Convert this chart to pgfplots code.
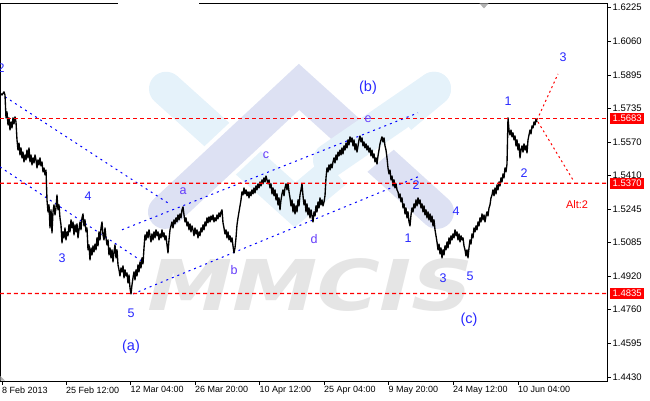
\documentclass[border=0pt]{standalone}
\usepackage{pgfplots}
\pgfplotsset{compat=1.18}
\usepackage{fontspec}
\setmainfont{Liberation Sans}
\newfontfamily\wmfont[FakeSlant=0.2]{DejaVu Sans}
\definecolor{wblue}{RGB}{40,40,255}
\definecolor{wviolet}{RGB}{100,60,250}
\definecolor{lblue}{RGB}{229,242,250}
\definecolor{lav}{RGB}{221,225,243}
\definecolor{wmgrey}{RGB}{229,229,229}
\definecolor{lvlA}{RGB}{255,0,0}
\definecolor{lvlB}{RGB}{254,0,0}
\definecolor{lvlC}{RGB}{255,0,1}
\definecolor{lvlD}{RGB}{253,0,0}
\definecolor{lvlE}{RGB}{255,1,0}
\definecolor{chA}{RGB}{0,0,255}
\definecolor{chB}{RGB}{0,0,254}
\definecolor{chC}{RGB}{1,0,255}
\definecolor{chD}{RGB}{0,1,255}
\begin{document}
\begin{tikzpicture}
\useasboundingbox (0,-19pt) rectangle (650pt,381pt);
\begin{axis}[
  at={(0,0)}, anchor=south west, scale only axis,
  width=607pt, height=378pt,
  xmin=0, xmax=607, ymin=1.44106, ymax=1.62440,
  axis line style={black, line width=0.8pt},
  tick align=outside, major tick length=3.5pt,
  every tick/.style={black, line width=0.6pt},
  xtick pos=left, ytick pos=right, yticklabel pos=right,
  xtick={2,66,130.5,195,259.5,324,388.5,453,518},
  xticklabels={8 Feb 2013,25 Feb 12:00,12 Mar 04:00,26 Mar 20:00,10 Apr 12:00,25 Apr 04:00,9 May 20:00,24 May 12:00,10 Jun 04:00},
  ytick={1.4430,1.4595,1.4760,1.4920,1.5085,1.5245,1.5410,1.5570,1.5735,1.5895,1.6060,1.6225},
  yticklabels={1.4430,1.4595,1.4760,1.4920,1.5085,1.5245,1.5410,1.5570,1.5735,1.5895,1.6060,1.6225},
  ticklabel style={font=\fontsize{9}{10}\selectfont, inner sep=0pt},
  xticklabel style={anchor=north west, yshift=-2pt},
  yticklabel style={anchor=west, xshift=2pt, font=\fontsize{9.5}{10}\selectfont},
  clip=true,
]
% watermark logo
\draw[lblue, line width=34pt, line cap=round] (166,1.5828) -- (295,1.5265) -- (434,1.5828);
\draw[white, line width=42pt, line cap=butt] (260,1.5662) -- (208,1.5425);
\draw[lav, line width=34pt, line cap=round, line join=miter] (165,1.5231) -- (299,1.5837) -- (437,1.5231);
\draw[white, line width=42pt, line cap=butt] (400,1.5692) -- (335,1.5427);
\draw[lblue, line width=34pt, line cap=round] (434,1.5828) -- (330,1.5482);
\node[text=wmgrey, font=\wmfont\bfseries\fontsize{70}{70}\selectfont, xscale=1.22] at (304,1.4877) {MMCIS};
% channel lines
\addplot[draw=chA, line width=1pt, dash pattern=on 2pt off 4pt] coordinates {(5,1.5789) (168,1.5274)};
\addplot[draw=chB, line width=1pt, dash pattern=on 2pt off 4pt] coordinates {(0,1.5449) (143,1.4988)};
\addplot[draw=chC, line width=1pt, dash pattern=on 2pt off 4pt] coordinates {(122,1.5144) (418,1.5711)};
\addplot[draw=chD, line width=1pt, dash pattern=on 2pt off 4pt] coordinates {(133,1.4833) (420,1.5405)};
% price
\addplot[black, line width=1.35pt, line join=round] coordinates {
(0,1.5808) (2,1.5798) (4,1.5813) (5,1.5798) (6,1.5687) (7,1.5716) (8,1.5653) (9,1.5687) (10,1.5628) (11,1.5667)
(12,1.5638) (13,1.5687) (14,1.5658) (15,1.5692) (16,1.5667) (17,1.5580) (18,1.5531) (19,1.5565) (20,1.5507) (21,1.5541)
(22,1.5493) (23,1.5521) (24,1.5473) (25,1.5507) (26,1.5483) (27,1.5531) (28,1.5493) (29,1.5541) (30,1.5473) (31,1.5507)
(32,1.5459) (33,1.5493) (34,1.5468) (35,1.5507) (36,1.5483) (37,1.5444) (38,1.5483) (39,1.5459) (40,1.5493) (41,1.5454)
(42,1.5473) (43,1.5425) (44,1.5444) (45,1.5410) (46,1.5434) (47,1.5289)
(48,1.5231) (49,1.5265) (50,1.5153) (51,1.5241) (52,1.5129) (53,1.5231) (54,1.5265) (55,1.5216) (56,1.5250) (57,1.5313)
(58,1.5241) (59,1.5265) (60,1.5202) (61,1.5168) (62,1.5080) (63,1.5134) (64,1.5105) (65,1.5153) (66,1.5095) (67,1.5134)
(68,1.5115) (69,1.5168) (70,1.5134) (71,1.5192) (72,1.5153) (73,1.5182) (74,1.5119) (75,1.5168) (76,1.5134) (77,1.5173)
(78,1.5105) (79,1.5144) (80,1.5182) (81,1.5144) (82,1.5202) (83,1.5221) (84,1.5163) (85,1.5192) (86,1.5134) (87,1.5153)
(88,1.5047) (89,1.5071) (90,1.4998) (91,1.5056) (92,1.5022) (93,1.5066) (94,1.5037) (95,1.5075) (96,1.5047) (97,1.5105)
(98,1.5066) (99,1.5134) (100,1.5095) (101,1.5153) (102,1.5182) (103,1.5119) (104,1.5095) (105,1.5153) (106,1.5105) (107,1.5071)
(108,1.5095) (109,1.5022) (110,1.5056) (111,1.5008) (112,1.5047) (113,1.4988) (114,1.5037) (115,1.5071) (116,1.5008) (117,1.5047)
(118,1.4974) (119,1.4950) (120,1.4920) (121,1.4959) (122,1.4940) (123,1.4969) (124,1.4911) (125,1.4950) (126,1.4920) (127,1.4935)
(128,1.4886) (129,1.4925) (130,1.4862) (131,1.4833) (132,1.4877) (133,1.4911) (134,1.4940) (135,1.4901) (136,1.4950) (137,1.4920)
(138,1.4974) (139,1.4940) (140,1.4988) (141,1.4959) (142,1.5008) (143,1.4979) (144,1.5056) (145,1.5119)
(146,1.5095) (147,1.5134) (148,1.5105) (149,1.5144) (150,1.5115) (151,1.5085) (152,1.5124) (153,1.5095) (154,1.5134) (155,1.5105)
(156,1.5144) (157,1.5115) (158,1.5134) (159,1.5095) (160,1.5124) (161,1.5105) (162,1.5144) (163,1.5110) (164,1.5129) (165,1.5095)
(166,1.5115) (167,1.5071) (168,1.5032) (169,1.5095) (170,1.5144) (171,1.5163) (172,1.5182) (173,1.5153) (174,1.5192) (175,1.5173)
(176,1.5202) (177,1.5182) (178,1.5216) (179,1.5192) (180,1.5221) (181,1.5202) (182,1.5241) (183,1.5255) (184,1.5216) (185,1.5182)
(186,1.5202) (187,1.5163) (188,1.5182) (189,1.5144) (190,1.5173) (191,1.5134) (192,1.5163) (193,1.5144) (194,1.5115) (195,1.5153)
(196,1.5124) (197,1.5144) (198,1.5105) (199,1.5134) (200,1.5115) (201,1.5153) (202,1.5134) (203,1.5168) (204,1.5144) (205,1.5182)
(206,1.5163) (207,1.5202) (208,1.5178) (209,1.5207) (210,1.5182) (211,1.5211) (212,1.5192) (213,1.5216) (214,1.5182) (215,1.5202)
(216,1.5187) (217,1.5216) (218,1.5197) (219,1.5226) (220,1.5207) (221,1.5231) (222,1.5241) (223,1.5178) (224,1.5153) (225,1.5124)
(226,1.5144) (227,1.5105) (228,1.5134) (229,1.5095) (230,1.5115) (231,1.5085) (232,1.5105) (233,1.5066) (234,1.5032) (235,1.5056)
(236,1.5105) (237,1.5168) (238,1.5202) (239,1.5231) (240,1.5260) (241,1.5289) (242,1.5328)
(243,1.5313) (244,1.5347) (245,1.5318) (246,1.5338) (247,1.5309) (248,1.5328) (249,1.5299) (250,1.5328) (251,1.5309) (252,1.5338)
(253,1.5318) (254,1.5347) (255,1.5323) (256,1.5357) (257,1.5338) (258,1.5367) (259,1.5347) (260,1.5376) (261,1.5357) (262,1.5386)
(263,1.5367) (264,1.5396) (265,1.5376) (266,1.5405) (267,1.5386) (268,1.5367) (269,1.5386) (270,1.5347) (271,1.5367) (272,1.5318)
(273,1.5347) (274,1.5309) (275,1.5338) (276,1.5289) (277,1.5318) (278,1.5265) (279,1.5299) (280,1.5241) (281,1.5289) (282,1.5318)
(283,1.5338) (284,1.5309) (285,1.5347) (286,1.5367) (287,1.5338) (288,1.5371) (289,1.5328) (290,1.5299) (291,1.5260) (292,1.5289)
(293,1.5231) (294,1.5270) (295,1.5221) (296,1.5260) (297,1.5231) (298,1.5289) (299,1.5260) (300,1.5313) (301,1.5338) (302,1.5367)
(303,1.5309) (304,1.5265) (305,1.5289) (306,1.5231) (307,1.5270) (308,1.5216) (309,1.5250) (310,1.5202) (311,1.5241) (312,1.5211)
(313,1.5182) (314,1.5231) (315,1.5211) (316,1.5260) (317,1.5231) (318,1.5279) (319,1.5250) (320,1.5299) (321,1.5265) (322,1.5289)
(323,1.5260) (324,1.5279) (325,1.5309) (326,1.5396) (327,1.5444)
(328,1.5425) (329,1.5459) (330,1.5434) (331,1.5463) (332,1.5444) (333,1.5473) (334,1.5493) (335,1.5468) (336,1.5507) (337,1.5483)
(338,1.5521) (339,1.5502) (340,1.5531) (341,1.5507) (342,1.5541) (343,1.5512) (344,1.5551) (345,1.5531) (346,1.5565) (347,1.5541)
(348,1.5580) (349,1.5556) (350,1.5595) (351,1.5570) (352,1.5590) (353,1.5551) (354,1.5580) (355,1.5531) (356,1.5561) (357,1.5521)
(358,1.5551) (359,1.5580) (360,1.5599) (361,1.5570) (362,1.5590) (363,1.5551) (364,1.5570) (365,1.5541) (366,1.5561) (367,1.5531)
(368,1.5551) (369,1.5521) (370,1.5541) (371,1.5502) (372,1.5531) (373,1.5493) (374,1.5512) (375,1.5473) (376,1.5493) (377,1.5463)
(378,1.5502) (379,1.5531) (380,1.5561) (381,1.5580) (382,1.5595) (383,1.5570) (384,1.5590) (385,1.5551) (386,1.5531) (387,1.5493)
(388,1.5444) (389,1.5415) (390,1.5434) (391,1.5386) (392,1.5405) (393,1.5357) (394,1.5386) (395,1.5347) (396,1.5367) (397,1.5338)
(398,1.5328) (399,1.5299) (400,1.5318) (401,1.5279) (402,1.5299) (403,1.5250) (404,1.5270) (405,1.5221) (406,1.5250) (407,1.5202)
(408,1.5231) (409,1.5182) (410,1.5163) (411,1.5216) (412,1.5250) (413,1.5231) (414,1.5270) (415,1.5250) (416,1.5289) (417,1.5260)
(418,1.5299) (419,1.5270) (420,1.5289) (421,1.5250) (422,1.5270) (423,1.5231) (424,1.5260) (425,1.5216) (426,1.5241) (427,1.5202)
(428,1.5231) (429,1.5192) (430,1.5221) (431,1.5182) (432,1.5211) (433,1.5163) (434,1.5192) (435,1.5144) (436,1.5115) (437,1.5085)
(438,1.5047) (439,1.5075) (440,1.5027) (441,1.5056) (442,1.5008) (443,1.5047) (444,1.5022) (445,1.5066) (446,1.5047) (447,1.5085)
(448,1.5056) (449,1.5105) (450,1.5075) (451,1.5115) (452,1.5095) (453,1.5124) (454,1.5105) (455,1.5144) (456,1.5115) (457,1.5134)
(458,1.5095) (459,1.5124) (460,1.5085) (461,1.5115) (462,1.5095) (463,1.5105) (464,1.5066) (465,1.5047) (466,1.5017) (467,1.5047)
(468,1.5008) (469,1.5056) (470,1.5095) (471,1.5075) (472,1.5124) (473,1.5105) (474,1.5153) (475,1.5134) (476,1.5163) (477,1.5144)
(478,1.5182) (479,1.5163) (480,1.5202) (481,1.5182) (482,1.5221) (483,1.5192) (484,1.5216) (485,1.5182) (486,1.5211) (487,1.5231)
(488,1.5211) (489,1.5250) (490,1.5265) (491,1.5299) (492,1.5313)
(493,1.5338) (494,1.5309) (495,1.5347) (496,1.5318) (497,1.5362) (498,1.5338) (499,1.5376) (500,1.5357) (501,1.5396) (502,1.5376)
(503,1.5415) (504,1.5396) (505,1.5444) (506,1.5425) (507,1.5463) (508,1.5687) (509,1.5628) (510,1.5604) (511,1.5628) (512,1.5595)
(513,1.5614) (514,1.5580) (515,1.5599) (516,1.5551) (517,1.5580) (518,1.5531) (519,1.5561) (520,1.5493) (521,1.5531) (522,1.5551)
(523,1.5521) (524,1.5561) (525,1.5531) (526,1.5551) (527,1.5517) (528,1.5580) (529,1.5604) (530,1.5628) (531,1.5609) (532,1.5648)
(533,1.5638) (534,1.5667) (535,1.5653) (536,1.5682) (537,1.5667)
};
% horizontal levels
\addplot[draw=lvlA, line width=1.1pt, dash pattern=on 4pt off 3pt] coordinates {(0,1.5683) (607,1.5683)};
\addplot[draw=lvlB, line width=1.2pt, dash pattern=on 4pt off 3pt] coordinates {(0,1.53698) (607,1.53702)};
\addplot[draw=lvlC, line width=1.2pt, dash pattern=on 4pt off 3pt] coordinates {(0,1.48348) (607,1.48352)};
% projections
\addplot[draw=lvlD, line width=1pt, dash pattern=on 2pt off 3pt] coordinates {(537,1.5677) (558,1.5900)};
\addplot[draw=lvlE, line width=1pt, dash pattern=on 2pt off 3pt] coordinates {(538,1.5667) (573,1.5386)};
\coordinate (r1) at (607,1.5683);
\coordinate (r2) at (607,1.5370);
\coordinate (r3) at (607,1.4835);
% wave labels
\begin{scope}[every node/.style={font=\fontsize{12.5}{13}\selectfont, text=wblue, inner sep=0pt}]
\node at (1,1.5929) {2};
\node at (88,1.5309) {4};
\node at (62,1.5008) {3};
\node at (131,1.4741) {5};
\node[font=\fontsize{14.5}{15}\selectfont] at (131,1.4576) {(a)};
\node[text=wviolet] at (183,1.5333) {a};
\node[text=wviolet] at (234,1.4950) {b};
\node[text=wviolet] at (266,1.5507) {c};
\node[text=wviolet] at (314,1.5100) {d};
\node[text=wviolet] at (368,1.5682) {e};
\node[font=\fontsize{14.5}{15}\selectfont] at (368,1.5832) {(b)};
\node at (416,1.5362) {2};
\node at (408,1.5105) {1};
\node at (456,1.5236) {4};
\node at (443,1.4911) {3};
\node at (470,1.4920) {5};
\node[font=\fontsize{14.5}{15}\selectfont] at (469,1.4707) {(c)};
\node at (508,1.5769) {1};
\node at (524,1.5420) {2};
\node at (563,1.5983) {3};
\node[text=lvlA, font=\fontsize{11}{12}\selectfont] at (577,1.5265) {Alt:2};
\end{scope}
\end{axis}
\node[fill=lvlA, text=white, anchor=west, inner xsep=2.5pt, inner ysep=2pt, font=\fontsize{9.5}{10}\selectfont, xshift=3pt] at (r1) {1.5683};
\node[fill=lvlB, text=white, anchor=west, inner xsep=2.5pt, inner ysep=2pt, font=\fontsize{9.5}{10}\selectfont, xshift=3pt] at (r2) {1.5370};
\node[fill=lvlC, text=white, anchor=west, inner xsep=2.5pt, inner ysep=2pt, font=\fontsize{9.5}{10}\selectfont, xshift=3pt] at (r3) {1.4835};
\draw[white, line width=1.6pt] (118pt,378pt) -- (199pt,378pt);
\fill[gray!60] (479.5pt,377.6pt) -- (488.5pt,377.6pt) -- (484pt,372.5pt) -- cycle;
\fill[gray!60] (0.4pt,0.4pt) -- (5pt,0.4pt) -- (0.4pt,5pt) -- cycle;
\end{tikzpicture}
\end{document}
